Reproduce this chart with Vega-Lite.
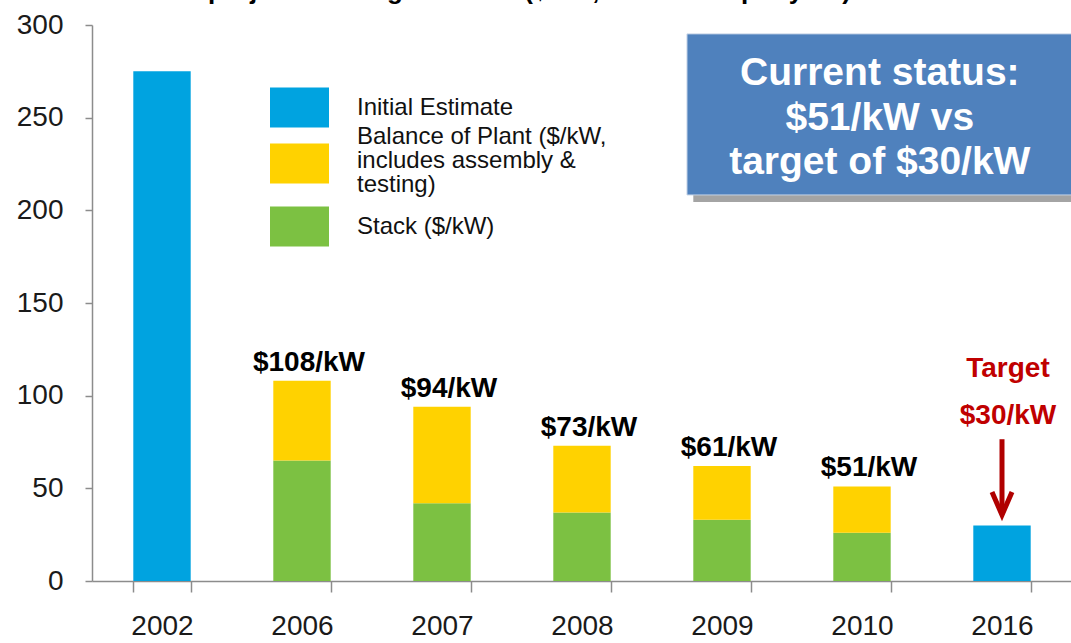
{
  "$schema": "https://vega.github.io/schema/vega-lite/v6.json",
  "width": 980,
  "height": 556,
  "autosize": {"type": "none"},
  "padding": {"left": 92, "top": 25, "right": 0, "bottom": 62},
  "background": "white",
  "config": {
    "view": {"stroke": null},
    "font": "Liberation Sans",
    "axis": {"domainColor": "#8c8c8c", "tickColor": "#8c8c8c", "domainWidth": 1.5, "tickWidth": 1.5, "grid": false, "labelFont": "Liberation Sans", "labelColor": "#1a1a1a", "title": null}
  },
  "title": {"text": "Cost projected to high volume ($/kW, 500k units per year)", "font": "Liberation Sans", "fontSize": 26, "fontWeight": "bold", "color": "#000000", "anchor": "start", "frame": "group", "dx": 51, "offset": -14, "baseline": "alphabetic"},
  "datasets": {
    "bars": [
      {"year": "2002", "component": "Initial Estimate", "cost": 275, "rank": 1},
      {"year": "2006", "component": "Stack ($/kW)", "cost": 65, "rank": 1},
      {"year": "2006", "component": "Balance of Plant ($/kW,|includes assembly &|testing)", "cost": 43, "rank": 2},
      {"year": "2007", "component": "Stack ($/kW)", "cost": 42, "rank": 1},
      {"year": "2007", "component": "Balance of Plant ($/kW,|includes assembly &|testing)", "cost": 52, "rank": 2},
      {"year": "2008", "component": "Stack ($/kW)", "cost": 37, "rank": 1},
      {"year": "2008", "component": "Balance of Plant ($/kW,|includes assembly &|testing)", "cost": 36, "rank": 2},
      {"year": "2009", "component": "Stack ($/kW)", "cost": 33, "rank": 1},
      {"year": "2009", "component": "Balance of Plant ($/kW,|includes assembly &|testing)", "cost": 29, "rank": 2},
      {"year": "2010", "component": "Stack ($/kW)", "cost": 26, "rank": 1},
      {"year": "2010", "component": "Balance of Plant ($/kW,|includes assembly &|testing)", "cost": 25, "rank": 2},
      {"year": "2016", "component": "Initial Estimate", "cost": 30, "rank": 1}
    ],
    "labels": [
      {"year": "2006", "total": 108, "label": "$108/kW"},
      {"year": "2007", "total": 94, "label": "$94/kW"},
      {"year": "2008", "total": 73, "label": "$73/kW"},
      {"year": "2009", "total": 62, "label": "$61/kW"},
      {"year": "2010", "total": 51, "label": "$51/kW"}
    ],
    "target": [
      {"year": "2016", "cost": 30, "note": "Target\n$30/kW"}
    ]
  },
  "layer": [
    {
      "data": {"name": "bars"},
      "mark": {"type": "bar"},
      "encoding": {
        "x": {"field": "year", "type": "nominal", "scale": {"domain": ["2002", "2006", "2007", "2008", "2009", "2010", "2016"], "paddingInner": 0.59, "paddingOuter": 0.295}, "axis": {"labelAngle": 0, "tickBand": "extent", "tickSize": 11, "labelPadding": 20, "labelFontSize": 28, "title": null}},
        "y": {"field": "cost", "type": "quantitative", "stack": "zero", "scale": {"domain": [0, 300], "nice": false}, "axis": {"values": [0, 50, 100, 150, 200, 250, 300], "tickSize": 7, "labelPadding": 22, "labelFontSize": 28, "title": null}},
        "color": {"field": "component", "type": "nominal", "scale": {"domain": ["Initial Estimate", "Balance of Plant ($/kW,|includes assembly &|testing)", "Stack ($/kW)"], "range": ["#00A3E0", "#FFD200", "#7CC142"]}, "legend": {"orient": "none", "legendX": 178, "legendY": 53, "title": null, "symbolType": "M-1,-0.68H1V0.68H-1Z", "symbolSize": 3481, "symbolStrokeWidth": 0, "symbolOpacity": 1, "labelFontSize": 24, "labelColor": "#111111", "labelFont": "Liberation Sans", "labelOffset": 28, "labelLimit": 500, "rowPadding": -4, "padding": 0, "labelExpr": "split(datum.label, '|')", "encode": {"labels": {"update": {"dy": {"signal": "length(split(datum.label, '|')) > 1 ? -27 : 0"}, "lineHeight": {"value": 24}}}}}},
        "order": {"field": "rank", "type": "quantitative"}
      }
    },
    {
      "data": {"values": [{}]},
      "mark": {"type": "rect", "fill": "#9a9a9a", "opacity": 0.9},
      "encoding": {
        "x": {"datum": "2009", "bandPosition": 0},
        "x2": {"datum": "2016", "bandPosition": 2},
        "y": {"datum": 292},
        "y2": {"datum": 204.5}
      }
    },
    {
      "data": {"values": [{}]},
      "mark": {"type": "rect", "fill": "#4F81BD", "stroke": "#c5d3e6", "strokeWidth": 1},
      "encoding": {
        "x": {"datum": "2009", "bandPosition": -0.11},
        "x2": {"datum": "2016", "bandPosition": 2},
        "y": {"datum": 295.2},
        "y2": {"datum": 208.3}
      }
    },
    {
      "data": {"values": [{}]},
      "mark": {"type": "text", "color": "white", "fontWeight": "bold", "fontSize": 39, "lineHeight": 44.5, "align": "center", "baseline": "middle", "font": "Liberation Sans"},
      "encoding": {
        "x": {"datum": "2010", "bandPosition": 0.81},
        "y": {"datum": 274.1},
        "text": {"value": ["Current status:", "$51/kW vs", "target of $30/kW"]}
      }
    },
    {
      "data": {"name": "labels"},
      "mark": {"type": "text", "fontWeight": "bold", "fontSize": 28, "baseline": "alphabetic", "dy": -10, "dx": 7, "color": "#000000", "font": "Liberation Sans"},
      "encoding": {
        "x": {"field": "year", "type": "nominal"},
        "y": {"field": "total", "type": "quantitative"},
        "text": {"field": "label"}
      }
    },
    {
      "data": {"name": "target"},
      "mark": {"type": "text", "fontWeight": "bold", "fontSize": 28, "baseline": "middle", "lineBreak": "\n", "lineHeight": 47, "dy": -156, "dx": 6, "color": "#C00000", "font": "Liberation Sans"},
      "encoding": {
        "x": {"field": "year", "type": "nominal"},
        "y": {"field": "cost", "type": "quantitative"},
        "text": {"field": "note"}
      }
    },
    {
      "data": {"values": [{}]},
      "mark": {"type": "rule", "color": "#B00000", "strokeWidth": 5},
      "encoding": {
        "x": {"datum": "2016"},
        "y": {"datum": 76.5},
        "y2": {"datum": 37}
      }
    },
    {
      "data": {"values": [{}]},
      "mark": {"type": "point", "shape": "M-1,-2.3L0,0L1,-2.3", "filled": false, "stroke": "#B00000", "strokeWidth": 5, "size": 400, "opacity": 1, "strokeJoin": "miter"},
      "encoding": {
        "x": {"datum": "2016"},
        "y": {"datum": 35.6}
      }
    }
  ]
}
